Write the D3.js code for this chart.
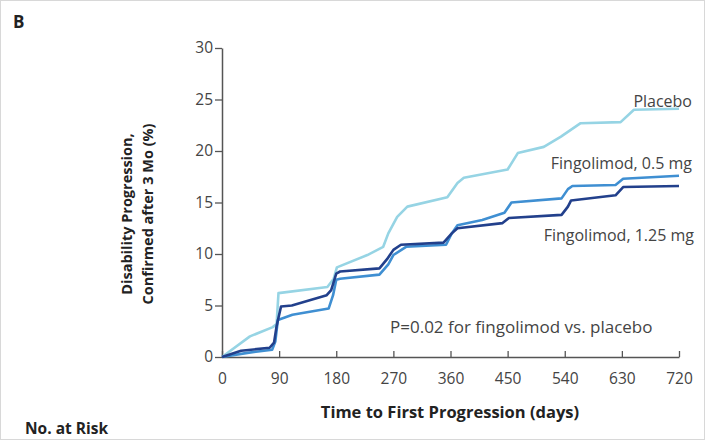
<!DOCTYPE html>
<html>
<head>
<meta charset="utf-8">
<script src="https://cdn.jsdelivr.net/npm/d3@7"></script>
<style>
  body { margin: 0; background: #fff; }
  text { font-family: "Open Sans", "Liberation Sans", sans-serif; }
</style>
</head>
<body>
<div id="chart"></div>
<script>
// =========================
// DATA
// =========================
const xTicks = [0, 90, 180, 270, 360, 450, 540, 630, 720];
const yTicks = [0, 5, 10, 15, 20, 25, 30];

const placebo = [
    [0, 0], [44, 2], [80, 2.9], [86, 3.2], [89, 6.2], [166, 6.8], [176, 7.6],
    [181, 8.7], [229, 9.9], [254, 10.7], [262, 12], [276, 13.6], [292, 14.6],
    [355, 15.5], [371, 16.9], [381, 17.4], [450, 18.2], [466, 19.8], [507, 20.4],
    [534, 21.4], [565, 22.7], [628, 22.8], [649, 24], [720, 24.1]
];
const fingo05 = [
    [0, 0], [40, 0.4], [79, 0.7], [84, 1.5], [88, 3.6], [111, 4.1], [168, 4.7],
    [175, 6.0], [180, 7.5], [186, 7.6], [248, 8.0], [262, 9.0], [270, 9.9],
    [290, 10.7], [353, 10.9], [362, 12.0], [371, 12.8], [410, 13.3], [445, 14.0],
    [456, 15.0], [535, 15.4], [545, 16.3], [552, 16.6], [620, 16.7], [632, 17.3],
    [720, 17.6]
];
const fingo125 = [
    [0, 0], [30, 0.6], [75, 0.9], [82, 1.4], [86, 3.0], [93, 4.9], [110, 5.0],
    [165, 6.0], [172, 6.5], [180, 8.1], [186, 8.3], [248, 8.6], [260, 9.5],
    [270, 10.4], [282, 10.9], [349, 11.1], [362, 12.0], [371, 12.5], [442, 13.0],
    [452, 13.5], [535, 13.8], [545, 14.6], [550, 15.2], [620, 15.7], [632, 16.5],
    [720, 16.6]
];

const series = [
    { name: "Placebo", values: placebo, color: "#96d4e4", label: [692, 107] },
    { name: "Fingolimod, 0.5 mg", values: fingo05, color: "#3f8fd2", label: [692, 169] },
    { name: "Fingolimod, 1.25 mg", values: fingo125, color: "#22408c", label: [694, 241] }
];

// =========================
// SETUP
// =========================
const W = 705, H = 440;
const margin = { top: 48, right: 26, bottom: 83, left: 222 };
const width = W - margin.left - margin.right;
const height = H - margin.top - margin.bottom;

const root = d3.select("#chart").append("svg")
    .attr("width", W)
    .attr("height", H);

root.append("rect")
    .attr("x", 0.5).attr("y", 0.5)
    .attr("width", W - 1).attr("height", H - 1)
    .attr("fill", "#fff")
    .attr("stroke", "#d8d8d8");

const svg = root.append("g")
    .attr("transform", `translate(${margin.left},${margin.top})`);

// =========================
// SCALES
// =========================
const x = d3.scaleLinear().domain([0, 720]).range([0, width]);
const y = d3.scaleLinear().domain([0, 30]).range([height, 0]);

// =========================
// AXES
// =========================
const axisColor = "#555";

const xAxis = svg.append("g")
    .attr("transform", `translate(0,${height})`)
    .call(d3.axisBottom(x).tickValues(xTicks).tickSize(-6).tickPadding(16).tickSizeOuter(0));

const yAxis = svg.append("g")
    .call(d3.axisLeft(y).tickValues(yTicks).tickSize(7).tickPadding(2).tickSizeOuter(0));

[xAxis, yAxis].forEach(a => {
    a.select(".domain").attr("stroke", axisColor).attr("stroke-width", 1.5);
    a.selectAll(".tick line").attr("stroke", axisColor).attr("stroke-width", 1.3);
    a.selectAll(".tick text")
        .attr("fill", "#444")
        .style("font-size", "15.5px")
        .style("font-family", "'Open Sans', sans-serif");
});

// =========================
// LINES
// =========================
const line = d3.line()
    .x(d => x(d[0]))
    .y(d => y(d[1]))
    .curve(d3.curveLinear);

series.forEach(s => {
    svg.append("path")
        .datum(s.values)
        .attr("fill", "none")
        .attr("stroke", s.color)
        .attr("stroke-width", 2.6)
        .attr("stroke-linejoin", "round")
        .attr("d", line);
});

// series labels
series.forEach(s => {
    root.append("text")
        .attr("x", s.label[0])
        .attr("y", s.label[1])
        .attr("text-anchor", "end")
        .attr("fill", "#444")
        .style("font-size", "16px")
        .text(s.name);
});

// =========================
// TEXT
// =========================
root.append("text")
    .attr("x", 13).attr("y", 28)
    .style("font-size", "17px")
    .style("font-weight", "bold")
    .attr("fill", "#222")
    .text("B");

root.append("text")
    .attr("x", 390).attr("y", 333)
    .attr("fill", "#444")
    .style("font-size", "17px")
    .text("P=0.02 for fingolimod vs. placebo");

root.append("text")
    .attr("x", 450).attr("y", 418)
    .attr("text-anchor", "middle")
    .attr("fill", "#222")
    .style("font-size", "16.5px")
    .style("font-weight", "bold")
    .text("Time to First Progression (days)");

const yLabel = root.append("text")
    .attr("transform", "translate(132,214) rotate(-90)")
    .attr("text-anchor", "middle")
    .attr("fill", "#222")
    .style("font-size", "14.5px")
    .style("font-weight", "bold");
yLabel.append("tspan").attr("x", 0).attr("dy", 0).text("Disability Progression,");
yLabel.append("tspan").attr("x", 0).attr("dy", 21).text("Confirmed after 3 Mo (%)");

root.append("text")
    .attr("x", 25).attr("y", 434)
    .attr("fill", "#222")
    .style("font-size", "15.5px")
    .style("font-weight", "bold")
    .text("No. at Risk");
</script>
</body>
</html>
